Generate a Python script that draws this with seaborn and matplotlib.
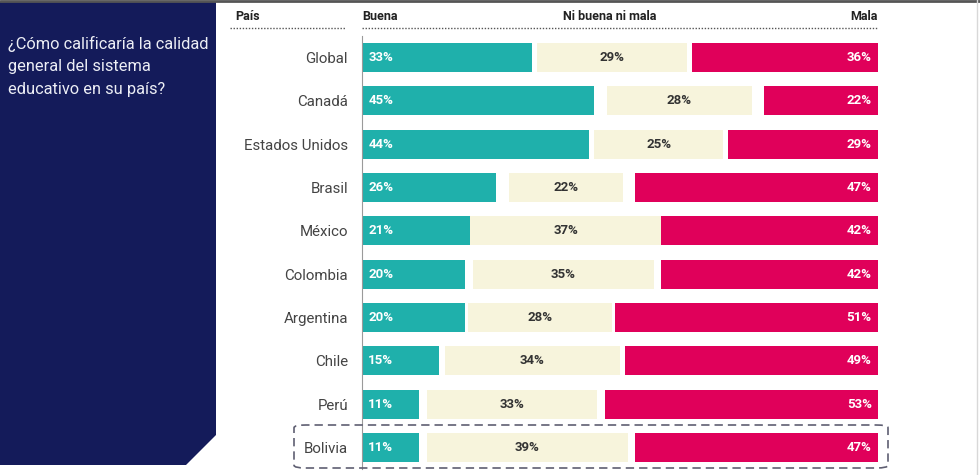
#%%
import numpy as np                           # for numerical manipulation.
import pandas as pd                          # for wrapping the data.
import seaborn as sns                        # for plotting.
import matplotlib.pyplot as plt
from matplotlib.patches import Polygon, FancyBboxPatch
from matplotlib.lines import Line2D

sns.set_style("white")
plt.rcParams['font.family'] = ['Roboto', 'DejaVu Sans']

#%%
# Data.
paises = ["Global", "Canadá", "Estados Unidos", "Brasil", "México",
          "Colombia", "Argentina", "Chile", "Perú", "Bolivia"]
buena = [33, 45, 44, 26, 21, 20, 20, 15, 11, 11]
ni_buena_ni_mala = [29, 28, 25, 22, 37, 35, 28, 34, 33, 39]
mala = [36, 22, 29, 47, 42, 42, 51, 49, 53, 47]
pregunta = "¿Cómo calificaría la calidad\ngeneral del sistema\neducativo en su país?"
encabezados = ["País", "Buena", "Ni buena ni mala", "Mala"]

teal = "#1fb0ab"
crema = "#f7f4dc"
rojo = "#e0005a"
navy = "#141b5a"

df = pd.DataFrame({
    "pais": paises,
    "buena": buena,
    "ni": ni_buena_ni_mala,
    "mala": mala,
})
# Middle block sits centred in the leftover gap; "Mala" is anchored to 100.
df["gap"] = (100 - df["buena"] - df["ni"] - df["mala"]) / 2
df["ni_left"] = df["buena"] + df["gap"]
df["mala_left"] = 100 - df["mala"]

#%%
W, H = 980, 475
fig = plt.figure(figsize=(W / 100, H / 100), dpi=100)

def fx(px):  # pixel -> figure coords
    return px / W

def fy(py):
    return 1 - py / H

# Left navy panel with cut corner.
panel = Polygon(
    [(fx(0), fy(2)), (fx(216), fy(2)), (fx(216), fy(435)),
     (fx(186), fy(465)), (fx(0), fy(465))],
    closed=True, transform=fig.transFigure, facecolor=navy,
    edgecolor="none", zorder=0,
)
fig.patches.append(panel)
fig.text(fx(8), fy(36), pregunta, color="#eceef5", fontsize=11.8,
         linespacing=1.62, va="top", ha="left")

# Frame lines at top and right.
fig.add_artist(Line2D([0, 1], [fy(1), fy(1)], color="#555555", lw=2,
                      transform=fig.transFigure))
fig.add_artist(Line2D([fx(977), fx(977)], [fy(0), fy(475)], color="#d8d8d8",
                      lw=1, transform=fig.transFigure))

#%%
ax = fig.add_axes([fx(362), 1 - 469 / H, fx(878) - fx(362), (469 - 36) / H])
sns.barplot(data=df, y="pais", x="buena", order=paises, color=teal,
            width=0.67, saturation=1, ax=ax, linewidth=0)
sns.barplot(data=df, y="pais", x="ni", order=paises, color=crema,
            width=0.67, saturation=1, ax=ax, linewidth=0,
            left=df["ni_left"].values)
sns.barplot(data=df, y="pais", x="mala", order=paises, color=rojo,
            width=0.67, saturation=1, ax=ax, linewidth=0,
            left=df["mala_left"].values)

ax.set_xlim(0, 100)
ax.set_ylim(9.5, -0.5)
ax.set_xlabel("")
ax.set_ylabel("")
ax.set_xticks([])
for s in ["top", "right", "bottom"]:
    ax.spines[s].set_visible(False)
ax.spines["left"].set_color("#9a9a9a")
ax.spines["left"].set_linewidth(0.8)
ax.tick_params(axis="y", which="major", length=0, pad=10,
               labelsize=10.8, labelcolor="#444444")
ax.set_yticks(np.arange(-0.5, 10, 1), minor=True)
ax.tick_params(axis="y", which="minor", length=3, color="#9a9a9a", width=0.8)

# Percentage labels.
for i, row in df.iterrows():
    ax.text(1.2, i, f"{row['buena']}%", color="white", fontsize=9.5,
            fontweight="bold", va="center", ha="left")
    ax.text(row["ni_left"] + row["ni"] / 2, i, f"{row['ni']}%",
            color="#333333", fontsize=9.5, fontweight="bold",
            va="center", ha="center")
    ax.text(98.8, i, f"{row['mala']}%", color="white", fontsize=9.5,
            fontweight="bold", va="center", ha="right")

#%%
# Column headers with dotted underline.
hy = fy(17)
fig.text(fx(235), hy, encabezados[0], fontsize=9, fontweight="bold",
         color="#222222", va="center", ha="left")
fig.text(fx(362), hy, encabezados[1], fontsize=9, fontweight="bold",
         color="#222222", va="center", ha="left")
fig.text(fx(610), hy, encabezados[2], fontsize=9, fontweight="bold",
         color="#222222", va="center", ha="center")
fig.text(fx(878), hy, encabezados[3], fontsize=9, fontweight="bold",
         color="#222222", va="center", ha="right")
for x0, x1 in [(230, 346), (362, 878)]:
    fig.add_artist(Line2D([fx(x0), fx(x1)], [fy(28), fy(28)], color="#555555",
                          lw=1, linestyle=(0, (1, 1.2)),
                          transform=fig.transFigure))

# Dashed highlight around Bolivia.
caja = FancyBboxPatch((fx(294), fy(468)), fx(888) - fx(294), (468 - 425) / H,
                      boxstyle="round,pad=0,rounding_size=0.012",
                      transform=fig.transFigure, facecolor="none",
                      edgecolor="#5f5f72", lw=1.2, linestyle=(0, (5, 3)),
                      mutation_aspect=H / W)
fig.patches.append(caja)

plt.savefig("out.png", dpi=100)
